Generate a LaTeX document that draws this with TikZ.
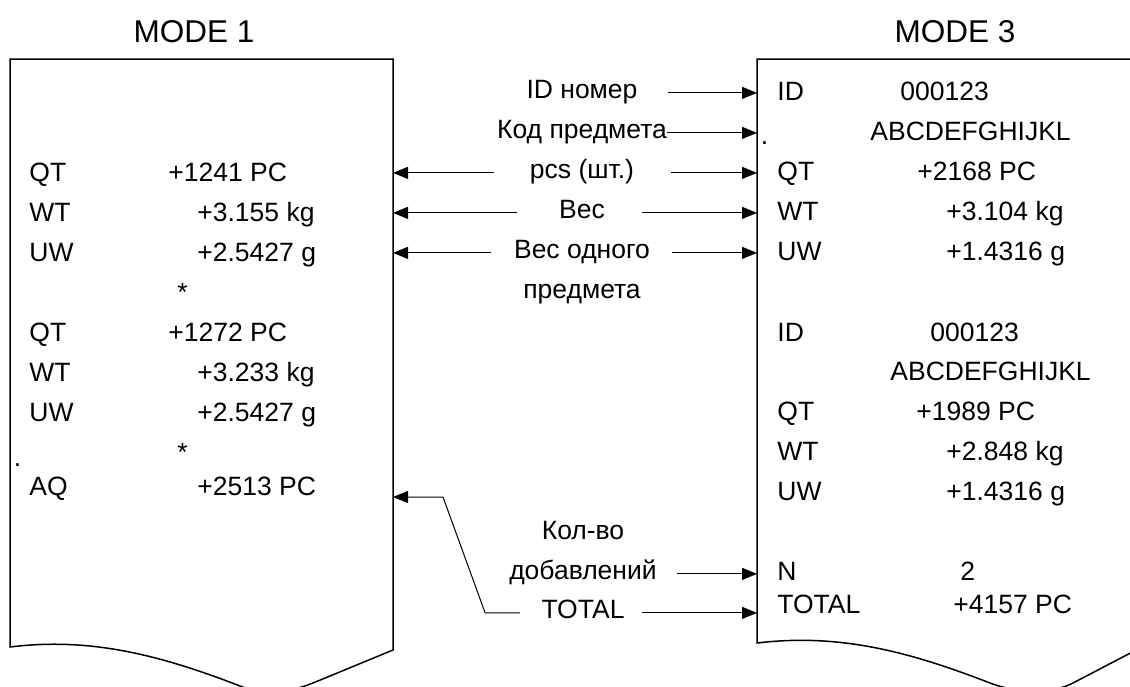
\documentclass[tikz,border=0pt]{standalone}
\usepackage{fontspec}
\setmainfont{Liberation Sans}
\usetikzlibrary{arrows.meta}

\begin{document}
\begin{tikzpicture}[
  x=0.5pt, y=-0.5pt,
  font=\fontsize{13.25}{16}\selectfont,
  paper/.style={line width=0.75pt},
  row/.style={anchor=base west, inner sep=0pt},
  title/.style={anchor=base, inner sep=0pt, font=\fontsize{15.75}{19}\selectfont},
  lbl/.style={anchor=base, inner sep=0pt, text height=0.72em, text depth=0.21em},
  arr/.style={-{Triangle[length=7.5pt,width=6pt]}, line width=0.5pt}]
\clip (0,0) rectangle (1130,686);
% paper strips
\draw[paper] (393,650) -- (393,59) coordinate (m1e) -- (10,59) -- (10,647)
  .. controls (90,637) and (160,655) .. (240,686)
  .. controls (262,694.6) and (285,694) .. (313,683) -- cycle;
\draw[paper] (1140,648) -- (1140,59) -- (757,59) coordinate (m3w) -- (757,643)
  .. controls (840,633) and (910,652) .. (990,683)
  .. controls (1015,692.7) and (1050,695) .. (1073,683) -- cycle;
\node[title] (t1) at (194,42) {MODE 1};
\node[title] (t3) at (955,42) {MODE 3};
% MODE 1 printout
\node[row] (a1k) at (29,181) {QT}; \node[row] (a1v) at (168,181) {+1241 PC};
\node[row] (a2k) at (29,221) {WT}; \node[row] (a2v) at (197,221) {+3.155 kg};
\node[row] (a3k) at (29,261) {UW}; \node[row] (a3v) at (197,261) {+2.5427 g};
\node[row] (a4v) at (177,301) {*};
\node[row] (a5k) at (29,341) {QT}; \node[row] (a5v) at (168,341) {+1272 PC};
\node[row] (a6k) at (29,381) {WT}; \node[row] (a6v) at (197,381) {+3.233 kg};
\node[row] (a7k) at (29,421) {UW}; \node[row] (a7v) at (197,421) {+2.5427 g};
\node[row] (a8v) at (177,461) {*};
\node[row] (a9k) at (29,495) {AQ}; \node[row] (a9v) at (197,495) {+2513 PC};
\node[row] (dot1) at (13.4,466.5) {.};
% MODE 3 printout
\node[row] (b1k) at (777,100) {ID}; \node[row] (b1v) at (900,100) {000123};
\node[row] (b2v) at (870,140) {ABCDEFGHIJKL};
\node[row] (b3k) at (777,180) {QT}; \node[row] (b3v) at (917,180) {+2168 PC};
\node[row] (b4k) at (777,220) {WT}; \node[row] (b4v) at (946,220) {+3.104 kg};
\node[row] (b5k) at (777,260) {UW}; \node[row] (b5v) at (946,260) {+1.4316 g};
\node[row] (b6k) at (777,341) {ID}; \node[row] (b6v) at (930,341) {000123};
\node[row] (b7v) at (890,380) {ABCDEFGHIJKL};
\node[row] (b8k) at (777,420) {QT}; \node[row] (b8v) at (916,420) {+1989 PC};
\node[row] (b9k) at (777,460) {WT}; \node[row] (b9v) at (946,460) {+2.848 kg};
\node[row] (b10k) at (777,500) {UW}; \node[row] (b10v) at (946,500) {+1.4316 g};
\node[row] (b11k) at (777,580) {N}; \node[row] (b11v) at (960,580) {2};
\node[row] (b12k) at (777,613) {TOTAL}; \node[row] (b12v) at (953,613) {+4157 PC};
\node[row] (dot2) at (760.4,144.5) {.};
% labels in the middle
\node[lbl] (lid) at (582,98) {ID номер};
\node[lbl] (lcode) at (582,138) {Код предмета};
\node[lbl] (lpcs) at (582,178) {pcs (шт.)};
\node[lbl] (lwt) at (582,218) {Вес};
\node[lbl] (luw) at (582,258) {Вес одного};
\node[lbl] (luw2) at (582,298) {предмета};
\node[lbl] (lcnt) at (583,539) {Кол-во};
\node[lbl] (ladd) at (583,579) {добавлений};
\node[lbl] (ltot) at (583,618) {TOTAL};
\coordinate (aqknee) at (443,497);
\draw[arr] ([xshift=15pt]lid.east) -- (lid.east -| m3w);
\draw[arr] (lcode.east) -- (lcode.east -| m3w);
\draw[arr] ([xshift=18.5pt]lpcs.east) -- (lpcs.east -| m3w);
\draw[arr] ([xshift=-18pt]lpcs.west) -- (lpcs.west -| m1e);
\draw[arr] ([xshift=18.5pt]lwt.east) -- (lwt.east -| m3w);
\draw[arr] ([xshift=-21pt]lwt.west) -- (lwt.west -| m1e);
\draw[arr] ([xshift=11pt]luw.east) -- (luw.east -| m3w);
\draw[arr] ([xshift=-11.5pt]luw.west) -- (luw.west -| m1e);
\draw[arr] ([xshift=10pt]ladd.east) -- (ladd.east -| m3w);
\draw[arr] ([xshift=8.5pt]ltot.east) -- (ltot.east -| m3w);
\draw[arr] ([xshift=-10.5pt]ltot.west) -- ([xshift=-28pt]ltot.west) -- (aqknee) -- (aqknee -| m1e);
\end{tikzpicture}
\end{document}
